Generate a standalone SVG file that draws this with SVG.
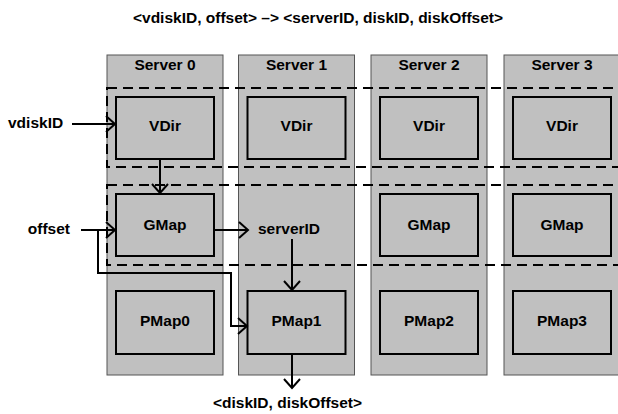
<svg xmlns="http://www.w3.org/2000/svg" width="618" height="414" viewBox="0 0 618 414">
<style>
text{font-family:"Liberation Sans",Arial,sans-serif;font-weight:bold;font-size:15.5px;fill:#000}
.col{fill:#c0c0c0;stroke:#555;stroke-width:1}
.box{fill:#c0c0c0;stroke:#000;stroke-width:2}
.dash{fill:none;stroke:#000;stroke-width:2;stroke-dasharray:10 6}
.c{text-anchor:middle}
.conn path{fill:none;stroke:#000;stroke-width:2;marker-end:url(#arr)}
</style>
<defs>
<marker id="arr" markerUnits="userSpaceOnUse" markerWidth="20" markerHeight="20" viewBox="0 0 20 20" refX="10" refY="10" orient="auto" overflow="visible">
<path d="M1,2 L10,10 L1,18" fill="none" stroke="#000" stroke-width="2"/>
</marker>
</defs>
<rect width="618" height="414" fill="#fff"/>
<text class="c" x="318" y="23">&lt;vdiskID, offset&gt; –&gt; &lt;serverID, diskID, diskOffset&gt;</text>

<g id="server0">
<rect class="col" x="107" y="55" width="116" height="320"/>
<text class="c" x="165" y="70">Server 0</text>
</g>
<g id="server1">
<rect class="col" x="238.5" y="55" width="116" height="320"/>
<text class="c" x="296.5" y="70">Server 1</text>
</g>
<g id="server2">
<rect class="col" x="371" y="55" width="116" height="320"/>
<text class="c" x="429" y="70">Server 2</text>
</g>
<g id="server3">
<rect class="col" x="504" y="55" width="116" height="320"/>
<text class="c" x="562" y="70">Server 3</text>
</g>

<g id="vdir0"><rect class="box" x="116" y="97" width="98" height="62"/><text class="c" x="165" y="131">VDir</text></g>
<g id="vdir1"><rect class="box" x="247.5" y="97" width="98" height="62"/><text class="c" x="296.5" y="131">VDir</text></g>
<g id="vdir2"><rect class="box" x="380" y="97" width="98" height="62"/><text class="c" x="429" y="131">VDir</text></g>
<g id="vdir3"><rect class="box" x="513" y="97" width="98" height="62"/><text class="c" x="562" y="131">VDir</text></g>

<g id="gmap0"><rect class="box" x="116" y="194" width="98" height="62"/><text class="c" x="165" y="230">GMap</text></g>
<g id="gmap2"><rect class="box" x="380" y="194" width="98" height="62"/><text class="c" x="429" y="230">GMap</text></g>
<g id="gmap3"><rect class="box" x="513" y="194" width="98" height="62"/><text class="c" x="562" y="230">GMap</text></g>

<g id="pmap0"><rect class="box" x="116" y="291" width="98" height="63"/><text class="c" x="165" y="326">PMap0</text></g>
<g id="pmap1"><rect class="box" x="247.5" y="291" width="98" height="63"/><text class="c" x="296.5" y="326">PMap1</text></g>
<g id="pmap2"><rect class="box" x="380" y="291" width="98" height="63"/><text class="c" x="429" y="326">PMap2</text></g>
<g id="pmap3"><rect class="box" x="513" y="291" width="98" height="63"/><text class="c" x="562" y="326">PMap3</text></g>

<g id="vdir-layer"><rect class="dash" x="107" y="88" width="530" height="79"/></g>
<g id="gmap-layer"><rect class="dash" x="107" y="185" width="530" height="80"/></g>

<g id="labels">
<text x="8" y="128">vdiskID</text>
<text x="70" y="234" text-anchor="end">offset</text>
<text x="258" y="234">serverID</text>
<text class="c" x="287.5" y="408">&lt;diskID, diskOffset&gt;</text>
</g>

<g id="connectors" class="conn">
<path d="M72,124 H115"/>
<path d="M160,159 V193"/>
<path d="M81,230 H115"/>
<path d="M98,230 V273 H231 V326 H247"/>
<path d="M214,230 H248"/>
<path d="M292,239 V290"/>
<path d="M292,354 V388"/>
</g>
</svg>
